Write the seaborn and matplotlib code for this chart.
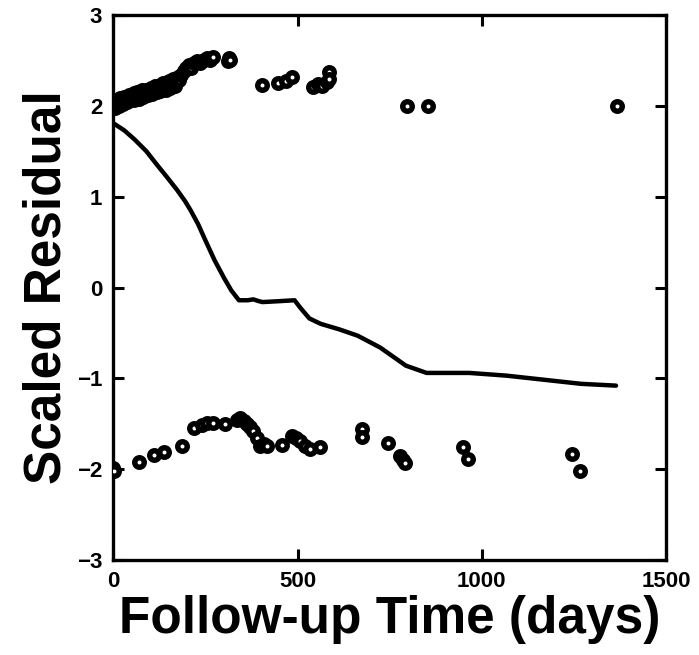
import numpy as np
import pandas as pd
import seaborn as sns
import matplotlib.pyplot as plt

# upper residuals (censored)
up_days = [0, 2, 4, 8, 9, 15, 18, 22, 26, 28, 35, 38, 42, 46, 50, 55, 57, 62, 64, 70, 72,
           78, 80, 86, 88, 94, 96, 102, 104, 110, 112, 118, 120, 126, 128, 134,
           136, 142, 145, 150, 153, 158, 162, 168, 170, 175, 178, 185, 192, 198, 205,
           212, 220, 228, 236, 245, 254, 262, 270, 310, 314, 318,
           404, 448, 470, 485, 543, 556, 567, 580, 584, 586,
           797, 854, 1367]
up_res = [2.00, 2.04, 1.98, 2.07, 2.03, 2.00, 2.09, 2.06, 2.02, 2.10, 2.08, 2.04, 2.12,
          2.06, 2.10, 2.14, 2.07, 2.10, 2.15, 2.08, 2.12, 2.17, 2.10, 2.14, 2.18, 2.12,
          2.16, 2.20, 2.13, 2.18, 2.22, 2.15, 2.19, 2.23, 2.16, 2.21,
          2.25, 2.18, 2.23, 2.27, 2.20, 2.25, 2.30, 2.22, 2.26, 2.32, 2.28, 2.34, 2.38,
          2.42, 2.45, 2.42, 2.47, 2.49, 2.47, 2.51, 2.53, 2.51, 2.54, 2.49, 2.53, 2.51,
          2.23, 2.25, 2.27, 2.32, 2.21, 2.24, 2.22, 2.26, 2.37, 2.30,
          2.00, 2.00, 2.00]

# lower residuals (events)
lo_days = [0, 3, 69, 110, 137, 187, 218, 240, 254, 272, 304, 335, 344, 355, 363, 372, 380,
           390, 399, 410, 417, 458, 485, 495, 507, 520, 534, 561,
           675, 676, 746, 778, 785, 792, 949, 963, 1245, 1267]
lo_res = [-1.99, -2.02, -1.92, -1.84, -1.81, -1.74, -1.55, -1.51, -1.49, -1.49, -1.50,
          -1.46, -1.44, -1.47, -1.50, -1.54, -1.58, -1.66, -1.74, -1.72, -1.74, -1.73,
          -1.63, -1.66, -1.69, -1.74, -1.78, -1.76,
          -1.56, -1.65, -1.71, -1.85, -1.90, -1.93, -1.76, -1.89, -1.83, -2.02]

# smoothed curve
fit_days = [0, 30, 58, 90, 119, 145, 174, 195, 210, 230, 250, 275, 300, 320, 341, 365,
            380, 395, 405, 450, 492, 507, 532, 563, 613, 663, 724, 794, 850, 966, 1067,
            1269, 1364]
fit_res = [1.81, 1.73, 1.63, 1.50, 1.35, 1.22, 1.07, 0.95, 0.85, 0.70, 0.52, 0.30, 0.11,
           -0.03, -0.14, -0.14, -0.13, -0.15, -0.16, -0.15, -0.14, -0.22, -0.34, -0.40,
           -0.46, -0.53, -0.66, -0.86, -0.94, -0.94, -0.97, -1.06, -1.08]

pts = pd.DataFrame({'day': up_days + lo_days, 'res': up_res + lo_res})
fit = pd.DataFrame({'day': fit_days, 'res': fit_res})

sns.set_style('ticks')
plt.rcParams['font.family'] = ['Liberation Sans', 'DejaVu Sans']
plt.rcParams['font.weight'] = 'bold'
for k in ['text.color', 'axes.labelcolor', 'xtick.color', 'ytick.color', 'axes.edgecolor']:
    plt.rcParams[k] = 'black'

fig = plt.figure(figsize=(6.99, 6.55), dpi=100)
ax = fig.add_axes([0.162, 0.145, 0.791, 0.832])

sns.lineplot(data=fit, x='day', y='res', ax=ax, color='black', linewidth=3.2)
sns.scatterplot(data=pts, x='day', y='res', ax=ax, marker='o', s=47,
                facecolor='white', edgecolor='black', linewidth=3.9, zorder=3)

ax.set_xlim(0, 1500)
ax.set_ylim(-3, 3)
ax.set_xticks([0, 500, 1000, 1500])
ax.set_yticks([-3, -2, -1, 0, 1, 2, 3])
ax.tick_params(direction='in', length=8, width=2.2, top=True, right=True,
               labelsize=16, pad=8)
for lab in ax.get_xticklabels() + ax.get_yticklabels():
    lab.set_fontweight('bold')
for sp in ax.spines.values():
    sp.set_linewidth(2.4)

ax.set_xlabel('Follow-up Time (days)', fontsize=37, fontweight='bold', labelpad=2)
ax.set_ylabel('Scaled Residual', fontsize=37, fontweight='bold', labelpad=4)

fig.savefig('out.png', dpi=100)
